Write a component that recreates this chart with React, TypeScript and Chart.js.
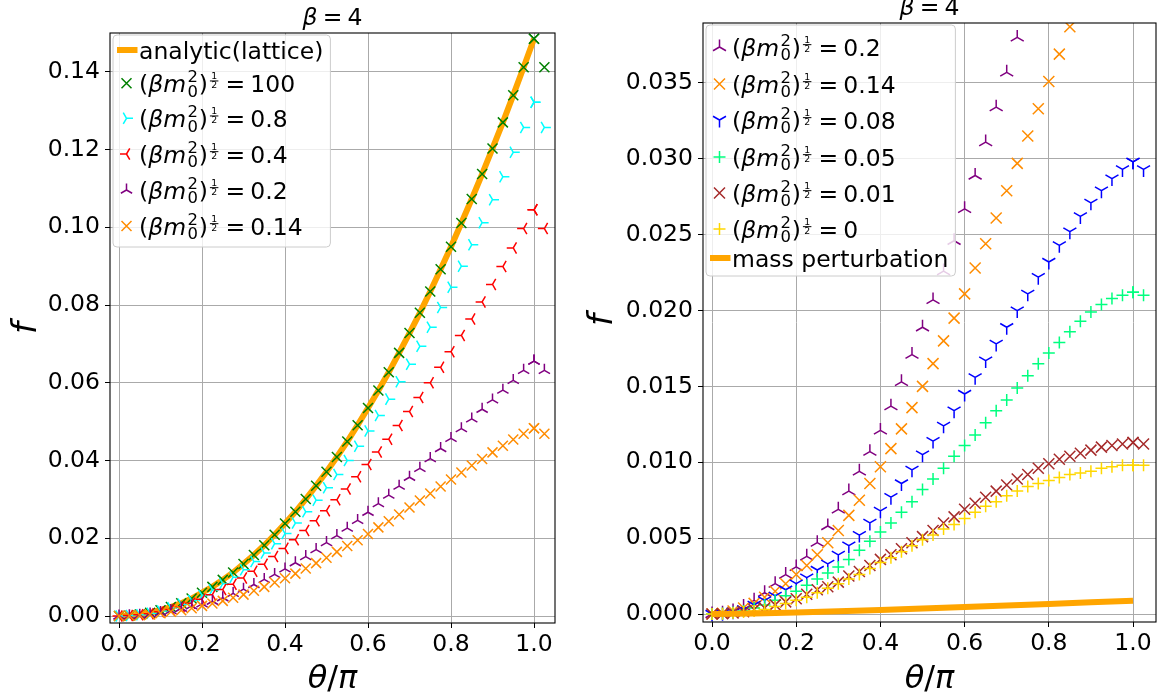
import React, { useEffect, useRef } from "react";
import { Chart, registerables } from "chart.js";
Chart.register(...registerables);

const FAMILY = '"DejaVu Sans", sans-serif';
const GRID = "#aaaaaa";

// theta / pi sample positions
const thetaOverPi = [0, 0.025, 0.05, 0.075, 0.1, 0.125, 0.15, 0.175, 0.2, 0.225, 0.25, 0.275, 0.3, 0.325, 0.35, 0.375, 0.4, 0.425, 0.45, 0.475, 0.5, 0.525, 0.55, 0.575, 0.6, 0.625, 0.65, 0.675, 0.7, 0.725, 0.75, 0.775, 0.8, 0.825, 0.85, 0.875, 0.9, 0.925, 0.95, 0.975, 1.0, 1.025];

const analyticLattice = [0, 0.0001, 0.0004, 0.0008, 0.0015, 0.0023, 0.0033, 0.0045, 0.0060, 0.0075, 0.0093, 0.0112, 0.0134, 0.0157, 0.0182, 0.0209, 0.0238, 0.0268, 0.0301, 0.0335, 0.0371, 0.0409, 0.0449, 0.0491, 0.0535, 0.0580, 0.0627, 0.0677, 0.0728, 0.0780, 0.0835, 0.0892, 0.0950, 0.1011, 0.1073, 0.1137, 0.1203, 0.1270, 0.1340, 0.1412, 0.1485];

const mass100 = [0, 0.0001, 0.0004, 0.0008, 0.0015, 0.0023, 0.0033, 0.0045, 0.0060, 0.0075, 0.0093, 0.0112, 0.0134, 0.0157, 0.0182, 0.0209, 0.0238, 0.0268, 0.0301, 0.0335, 0.0371, 0.0409, 0.0449, 0.0491, 0.0535, 0.0580, 0.0627, 0.0677, 0.0728, 0.0780, 0.0835, 0.0892, 0.0950, 0.1011, 0.1073, 0.1137, 0.1203, 0.1270, 0.1340, 0.1412, 0.1485, 0.1412];
const mass08 = [0, 0.0001, 0.0003, 0.0007, 0.0013, 0.0021, 0.0030, 0.0040, 0.0053, 0.0067, 0.0083, 0.0100, 0.0119, 0.0140, 0.0162, 0.0186, 0.0212, 0.0239, 0.0268, 0.0298, 0.0330, 0.0364, 0.0400, 0.0437, 0.0476, 0.0516, 0.0558, 0.0603, 0.0648, 0.0694, 0.0743, 0.0794, 0.0846, 0.0900, 0.0955, 0.1012, 0.1071, 0.1130, 0.1193, 0.1257, 0.1322, 0.1257];
const mass04 = [0, 0.0001, 0.0003, 0.0006, 0.0011, 0.0017, 0.0024, 0.0033, 0.0043, 0.0055, 0.0068, 0.0082, 0.0098, 0.0115, 0.0133, 0.0153, 0.0174, 0.0196, 0.0220, 0.0245, 0.0271, 0.0299, 0.0327, 0.0358, 0.0390, 0.0422, 0.0455, 0.0490, 0.0526, 0.0562, 0.0600, 0.0640, 0.0680, 0.0722, 0.0764, 0.0808, 0.0853, 0.0899, 0.0947, 0.0997, 0.1045, 0.0997];
const mass02 = [0, 0.00005, 0.0002, 0.0005, 0.0009, 0.0014, 0.0020, 0.0026, 0.0031, 0.0038, 0.0047, 0.0058, 0.0069, 0.0081, 0.0094, 0.0107, 0.0121, 0.0137, 0.0153, 0.0171, 0.0189, 0.0207, 0.0226, 0.0246, 0.0267, 0.0289, 0.0311, 0.0334, 0.0357, 0.0380, 0.0405, 0.0431, 0.0457, 0.0482, 0.0507, 0.0532, 0.0556, 0.0581, 0.0606, 0.0632, 0.0656, 0.0632];
const mass014 = [0, 0.00005, 0.0002, 0.0004, 0.0007, 0.0011, 0.0015, 0.0020, 0.0026, 0.0032, 0.0039, 0.0047, 0.0055, 0.0065, 0.0075, 0.0086, 0.0097, 0.0109, 0.0122, 0.0136, 0.0150, 0.0165, 0.0180, 0.0195, 0.0211, 0.0228, 0.0244, 0.0261, 0.0279, 0.0297, 0.0315, 0.0333, 0.0351, 0.0369, 0.0387, 0.0404, 0.0421, 0.0438, 0.0454, 0.0469, 0.0483, 0.0469];
const mass008 = [0, 0.00005, 0.00015, 0.0003, 0.0006, 0.0009, 0.0012, 0.0016, 0.0020, 0.0024, 0.0029, 0.0033, 0.0039, 0.0045, 0.0052, 0.0060, 0.0068, 0.0077, 0.0086, 0.0095, 0.0105, 0.0114, 0.0124, 0.0134, 0.0145, 0.0156, 0.0167, 0.0178, 0.0189, 0.0200, 0.0211, 0.0222, 0.0232, 0.0243, 0.0252, 0.0262, 0.0271, 0.0279, 0.0287, 0.0293, 0.0298, 0.0293];
const mass005 = [0, 0.00003, 0.0001, 0.0002, 0.0004, 0.0006, 0.0009, 0.0012, 0.0015, 0.0019, 0.0023, 0.0027, 0.0031, 0.0036, 0.0042, 0.0048, 0.0054, 0.0060, 0.0067, 0.0074, 0.0082, 0.0089, 0.0096, 0.0104, 0.0111, 0.0118, 0.0126, 0.0134, 0.0141, 0.0149, 0.0157, 0.0165, 0.0172, 0.0179, 0.0186, 0.0193, 0.0199, 0.0204, 0.0208, 0.0210, 0.0212, 0.0210];
const mass001 = [0, 0.00002, 0.00007, 0.00015, 0.0003, 0.0004, 0.0006, 0.0008, 0.0010, 0.0013, 0.0016, 0.0018, 0.0021, 0.0025, 0.0028, 0.0032, 0.0036, 0.0039, 0.0043, 0.0047, 0.0051, 0.0055, 0.0060, 0.0064, 0.0069, 0.0073, 0.0077, 0.0081, 0.0085, 0.0089, 0.0092, 0.0096, 0.0099, 0.0102, 0.0104, 0.0106, 0.0108, 0.0110, 0.0111, 0.0112, 0.0113, 0.0112];
const mass0 = [0, 0.00002, 0.00006, 0.00013, 0.0002, 0.0003, 0.0005, 0.0007, 0.0009, 0.0011, 0.0014, 0.0017, 0.0020, 0.0023, 0.0026, 0.0030, 0.0034, 0.0037, 0.0041, 0.0045, 0.0049, 0.0052, 0.0056, 0.0059, 0.0063, 0.0067, 0.0071, 0.0074, 0.0078, 0.0081, 0.0084, 0.0086, 0.0088, 0.0090, 0.0092, 0.0093, 0.0094, 0.0096, 0.0097, 0.0098, 0.0098, 0.0098];

const massTheta = [0, 0.1, 0.2, 0.3, 0.4, 0.5, 0.6, 0.7, 0.8, 0.9, 1.0];
const massPerturbation = [0, 0.00003, 0.0001, 0.00018, 0.00027, 0.00036, 0.00046, 0.00056, 0.00066, 0.00077, 0.00088];

const xTicks = [0, 0.2, 0.4, 0.6, 0.8, 1.0];
const leftYTicks = [0, 0.02, 0.04, 0.06, 0.08, 0.1, 0.12, 0.14];
const rightYTicks = [0, 0.005, 0.01, 0.015, 0.02, 0.025, 0.03, 0.035];

type Kind = "x" | "+" | "tri_up" | "tri_down" | "tri_left" | "tri_right" | "line";

function drawMarker(ctx: CanvasRenderingContext2D, kind: Kind, x: number, y: number, r: number, color: string, lw = 1.5) {
  ctx.save();
  ctx.strokeStyle = color;
  ctx.lineWidth = lw;
  ctx.lineCap = "butt";
  ctx.beginPath();
  const c = 0.866 * r, h = 0.5 * r;
  switch (kind) {
    case "x":
      ctx.moveTo(x - r, y - r); ctx.lineTo(x + r, y + r);
      ctx.moveTo(x - r, y + r); ctx.lineTo(x + r, y - r);
      break;
    case "+":
      ctx.moveTo(x - r, y); ctx.lineTo(x + r, y);
      ctx.moveTo(x, y - r); ctx.lineTo(x, y + r);
      break;
    case "tri_up":
      ctx.moveTo(x, y); ctx.lineTo(x, y - r);
      ctx.moveTo(x, y); ctx.lineTo(x - c, y + h);
      ctx.moveTo(x, y); ctx.lineTo(x + c, y + h);
      break;
    case "tri_down":
      ctx.moveTo(x, y); ctx.lineTo(x, y + r);
      ctx.moveTo(x, y); ctx.lineTo(x - c, y - h);
      ctx.moveTo(x, y); ctx.lineTo(x + c, y - h);
      break;
    case "tri_left":
      ctx.moveTo(x, y); ctx.lineTo(x - r, y);
      ctx.moveTo(x, y); ctx.lineTo(x + h, y - c);
      ctx.moveTo(x, y); ctx.lineTo(x + h, y + c);
      break;
    case "tri_right":
      ctx.moveTo(x, y); ctx.lineTo(x + r, y);
      ctx.moveTo(x, y); ctx.lineTo(x - h, y - c);
      ctx.moveTo(x, y); ctx.lineTo(x - h, y + c);
      break;
  }
  ctx.stroke();
  ctx.restore();
}

const reg = (s: number) => `${s}px ${FAMILY}`;
const ita = (s: number) => `italic ${s}px ${FAMILY}`;

const EQ_PRE = 0.3;
const EQ_POST = 0.22;

function drawMassLabel(ctx: CanvasRenderingContext2D, x: number, baseY: number, value: string, F: number) {
  ctx.save();
  ctx.fillStyle = "#000";
  ctx.textAlign = "left";
  ctx.textBaseline = "alphabetic";
  let cx = x;
  ctx.font = reg(F); ctx.fillText("(", cx, baseY); cx += ctx.measureText("(").width;
  ctx.font = ita(F); ctx.fillText("β", cx, baseY); cx += ctx.measureText("β").width;
  ctx.fillText("m", cx, baseY); cx += ctx.measureText("m").width + 0.06 * F;
  ctx.font = reg(0.7 * F);
  ctx.fillText("2", cx, baseY - 0.42 * F);
  ctx.fillText("0", cx, baseY + 0.2 * F);
  cx += ctx.measureText("2").width + 0.04 * F;
  ctx.font = reg(F); ctx.fillText(")", cx, baseY); cx += ctx.measureText(")").width;
  cx += 0.08 * F;
  const fw = 0.36 * F;
  const barY = baseY - 0.47 * F;
  ctx.fillRect(cx, barY - 0.5, fw, 1);
  ctx.font = reg(0.4 * F);
  ctx.textAlign = "center";
  ctx.fillText("1", cx + fw / 2, barY - 0.07 * F);
  ctx.fillText("2", cx + fw / 2, barY + 0.31 * F);
  ctx.textAlign = "left";
  cx += fw + EQ_PRE * F;
  ctx.font = reg(F); ctx.fillText("=", cx, baseY); cx += ctx.measureText("=").width + EQ_POST * F;
  ctx.fillText(value, cx, baseY);
  ctx.restore();
}

function measureMassLabel(ctx: CanvasRenderingContext2D, value: string, F: number) {
  ctx.save();
  let w = 0;
  ctx.font = reg(F); w += ctx.measureText("(").width;
  ctx.font = ita(F); w += ctx.measureText("β").width + ctx.measureText("m").width + 0.06 * F;
  ctx.font = reg(0.7 * F); w += ctx.measureText("2").width + 0.04 * F;
  ctx.font = reg(F); w += ctx.measureText(")").width + 0.08 * F + 0.36 * F + EQ_PRE * F;
  w += ctx.measureText("=").width + EQ_POST * F + ctx.measureText(value).width;
  ctx.restore();
  return w;
}

interface Series { label: string; values: number[]; color: string; kind: Kind; size: number; xs?: number[]; }
interface LegendEntry { kind: Kind; color: string; size: number; text?: string; mass?: string; y: number; }
interface Panel {
  canvasLeft: number; canvasWidth: number;
  area: { left: number; right: number; top: number; bottom: number };
  xMin: number; xMax: number; yMin: number; yMax: number;
  yTicks: number[]; yDecimals: number;
  series: Series[];
  legend: LegendEntry[]; legendTop: number; legendBottom: number;
  titleBase: number; fX: number; fY: number;
}

const F = 23.5;

const LEFT: Panel = {
  canvasLeft: 0, canvasWidth: 580,
  area: { left: 110, right: 555, top: 33, bottom: 623 },
  xMin: -0.0217, xMax: 1.0506, yMin: -0.0018, yMax: 0.15,
  yTicks: leftYTicks, yDecimals: 2,
  series: [
    { label: "analytic(lattice)", values: analyticLattice, color: "#ffa500", kind: "line", size: 6 },
    { label: "100", values: mass100, color: "#008000", kind: "x", size: 5 },
    { label: "0.8", values: mass08, color: "#00ffff", kind: "tri_right", size: 6.5 },
    { label: "0.4", values: mass04, color: "#ff0000", kind: "tri_left", size: 6.5 },
    { label: "0.2", values: mass02, color: "#800080", kind: "tri_up", size: 6.5 },
    { label: "0.14", values: mass014, color: "#ff8c00", kind: "x", size: 5 },
  ],
  legend: [
    { kind: "line", color: "#ffa500", size: 6, text: "analytic(lattice)", y: 50 },
    { kind: "x", color: "#008000", size: 5, mass: "100", y: 83.3 },
    { kind: "tri_right", color: "#00ffff", size: 6.5, mass: "0.8", y: 118.3 },
    { kind: "tri_left", color: "#ff0000", size: 6.5, mass: "0.4", y: 154 },
    { kind: "tri_up", color: "#800080", size: 6.5, mass: "0.2", y: 190 },
    { kind: "x", color: "#ff8c00", size: 5, mass: "0.14", y: 226 },
  ],
  legendTop: 35, legendBottom: 247,
  titleBase: 25, fX: 36, fY: 328,
};

const RIGHT: Panel = {
  canvasLeft: 580, canvasWidth: 579,
  area: { left: 703, right: 1156, top: 23, bottom: 622 },
  xMin: -0.0214, xMax: 1.0546, yMin: -0.000527, yMax: 0.03895,
  yTicks: rightYTicks, yDecimals: 3,
  series: [
    { label: "0.2", values: mass02, color: "#800080", kind: "tri_up", size: 7.5 },
    { label: "0.14", values: mass014, color: "#ff8c00", kind: "x", size: 5.5 },
    { label: "0.08", values: mass008, color: "#0000ff", kind: "tri_down", size: 7.5 },
    { label: "0.05", values: mass005, color: "#00ff7f", kind: "+", size: 6 },
    { label: "0.01", values: mass001, color: "#a52a2a", kind: "x", size: 5.5 },
    { label: "0", values: mass0, color: "#ffd700", kind: "+", size: 6 },
    { label: "mass perturbation", values: massPerturbation, xs: massTheta, color: "#ffa500", kind: "line", size: 6 },
  ],
  legend: [
    { kind: "tri_up", color: "#800080", size: 7.5, mass: "0.2", y: 47 },
    { kind: "x", color: "#ff8c00", size: 5.5, mass: "0.14", y: 84 },
    { kind: "tri_down", color: "#0000ff", size: 7.5, mass: "0.08", y: 120 },
    { kind: "+", color: "#00ff7f", size: 6, mass: "0.05", y: 157 },
    { kind: "x", color: "#a52a2a", size: 5.5, mass: "0.01", y: 193 },
    { kind: "+", color: "#ffd700", size: 6, mass: "0", y: 229 },
    { kind: "line", color: "#ffa500", size: 6, text: "mass perturbation", y: 258 },
  ],
  legendTop: 25, legendBottom: 276,
  titleBase: 15, fX: 612, fY: 320,
};

function roundRect(ctx: CanvasRenderingContext2D, x: number, y: number, w: number, h: number, r: number) {
  ctx.beginPath();
  ctx.moveTo(x + r, y);
  ctx.lineTo(x + w - r, y); ctx.arcTo(x + w, y, x + w, y + r, r);
  ctx.lineTo(x + w, y + h - r); ctx.arcTo(x + w, y + h, x + w - r, y + h, r);
  ctx.lineTo(x + r, y + h); ctx.arcTo(x, y + h, x, y + h - r, r);
  ctx.lineTo(x, y + r); ctx.arcTo(x, y, x + r, y, r);
  ctx.closePath();
}

function buildPanel(canvas: HTMLCanvasElement, P: Panel) {
  const off = P.canvasLeft;
  const n = P.series.length;
  const datasets: any[] = P.series.map((s, i) => {
    const xs = s.xs || thetaOverPi;
    const pts = s.values.map((v, j) => ({ x: xs[j], y: v }));
    if (s.kind === "line") {
      return {
        label: s.label, data: pts, showLine: true, borderColor: s.color, backgroundColor: s.color,
        borderWidth: s.size, pointRadius: 0, pointHoverRadius: 0, tension: 0, fill: false,
        borderCapStyle: "butt", order: n - i,
      };
    }
    pts.push({ x: xs[40], y: s.values[40] });
    return {
      label: s.label, data: pts, showLine: false, pointRadius: 0, pointHoverRadius: 0,
      borderColor: s.color, backgroundColor: s.color, order: n - i,
      markerKind: s.kind, markerColor: s.color, markerSize: s.size,
    };
  });

  const decor = {
    id: "decor",
    afterDatasetDraw(chart: any, args: any) {
      const ds = chart.data.datasets[args.index];
      if (!ds.markerKind) return;
      const ctx = chart.ctx as CanvasRenderingContext2D;
      const a = chart.chartArea;
      ctx.save();
      ctx.beginPath();
      ctx.rect(a.left, a.top, a.right - a.left, a.bottom - a.top);
      ctx.clip();
      for (const el of args.meta.data) {
        drawMarker(ctx, ds.markerKind, el.x, el.y, ds.markerSize, ds.markerColor, 1.5);
      }
      ctx.restore();
    },
    afterDraw(chart: any) {
      const ctx = chart.ctx as CanvasRenderingContext2D;
      const a = chart.chartArea;
      ctx.save();
      // spines
      ctx.strokeStyle = "#000";
      ctx.lineWidth = 1.1;
      ctx.strokeRect(a.left, a.top, a.right - a.left, a.bottom - a.top);

      // title  β = 4
      ctx.fillStyle = "#000";
      ctx.textBaseline = "alphabetic";
      ctx.textAlign = "left";
      const cxT = (a.left + a.right) / 2;
      ctx.font = ita(F); const wb = ctx.measureText("β").width;
      ctx.font = reg(F); const we = ctx.measureText("=").width; const w4 = ctx.measureText("4").width;
      const g = 0.22 * F;
      let tx = cxT - (wb + g + we + g + w4) / 2;
      ctx.font = ita(F); ctx.fillText("β", tx, P.titleBase); tx += wb + g;
      ctx.font = reg(F); ctx.fillText("=", tx, P.titleBase); tx += we + g;
      ctx.fillText("4", tx, P.titleBase);

      // x label θ/π
      const LF = 32;
      ctx.font = ita(LF); const wth = ctx.measureText("θ").width; const wpi = ctx.measureText("π").width;
      ctx.font = reg(LF); const wsl = ctx.measureText("/").width;
      let lx = cxT - (wth + wsl + wpi) / 2;
      ctx.font = ita(LF); ctx.fillText("θ", lx, 688); lx += wth;
      ctx.font = reg(LF); ctx.fillText("/", lx, 688); lx += wsl;
      ctx.font = ita(LF); ctx.fillText("π", lx, 688);

      // y label f (rotated)
      ctx.save();
      ctx.translate(P.fX - off, P.fY);
      ctx.rotate(-Math.PI / 2);
      ctx.textAlign = "center";
      ctx.font = ita(34);
      ctx.fillText("f", 0, 0);
      ctx.restore();

      // legend
      const boxL = a.left + 3;
      const textX = boxL + 26;
      let maxW = 0;
      for (const e of P.legend) {
        let w = 0;
        if (e.text) { ctx.font = reg(F); w = ctx.measureText(e.text).width; }
        else w = measureMassLabel(ctx, e.mass!, F);
        maxW = Math.max(maxW, w);
      }
      const boxR = textX + maxW + 7;
      roundRect(ctx, boxL, P.legendTop, boxR - boxL, P.legendBottom - P.legendTop, 4);
      ctx.fillStyle = "rgba(255,255,255,0.8)";
      ctx.fill();
      ctx.strokeStyle = "#cccccc";
      ctx.lineWidth = 1;
      ctx.stroke();
      for (const e of P.legend) {
        if (e.kind === "line") {
          ctx.save();
          ctx.strokeStyle = e.color; ctx.lineWidth = e.size;
          ctx.beginPath(); ctx.moveTo(boxL + 4, e.y); ctx.lineTo(boxL + 24.5, e.y); ctx.stroke();
          ctx.restore();
        } else {
          drawMarker(ctx, e.kind, boxL + 13.5, e.y, e.size, e.color, 1.5);
        }
        ctx.fillStyle = "#000";
        if (e.text) {
          ctx.font = reg(F); ctx.textAlign = "left";
          ctx.fillText(e.text, textX, e.y + 8.7);
        } else {
          drawMassLabel(ctx, textX, e.y + 8.7, e.mass!, F);
        }
      }
      ctx.restore();
    },
  };

  const tickFont = { family: FAMILY, size: F };
  return new Chart(canvas, {
    type: "scatter",
    data: { datasets },
    options: {
      animation: false,
      responsive: false,
      devicePixelRatio: 1,
      events: [],
      layout: { padding: { left: 0, top: P.area.top, right: off + P.canvasWidth - P.area.right, bottom: 0 } },
      plugins: { legend: { display: false }, tooltip: { enabled: false }, title: { display: false } },
      scales: {
        x: {
          type: "linear", min: P.xMin, max: P.xMax,
          afterBuildTicks: (s: any) => { s.ticks = xTicks.map((v) => ({ value: v })); },
          afterFit: (s: any) => { s.height = 698 - P.area.bottom; },
          ticks: { font: tickFont, color: "#000", padding: 3, maxRotation: 0, autoSkip: false, callback: (v: any) => Number(v).toFixed(1) },
          grid: { color: GRID, lineWidth: 1, tickLength: 5, tickColor: "#000", tickWidth: 1 },
          border: { display: false },
        },
        y: {
          type: "linear", min: P.yMin, max: P.yMax,
          afterBuildTicks: (s: any) => { s.ticks = P.yTicks.map((v) => ({ value: v })); },
          afterFit: (s: any) => { s.width = P.area.left - off; },
          ticks: { font: tickFont, color: "#000", padding: 5, autoSkip: false, callback: (v: any) => Number(v).toFixed(P.yDecimals) },
          grid: { color: GRID, lineWidth: 1, tickLength: 5, tickColor: "#000", tickWidth: 1 },
          border: { display: false },
        },
      },
    } as any,
    plugins: [decor],
  });
}

export default function App() {
  const leftRef = useRef<HTMLCanvasElement>(null);
  const rightRef = useRef<HTMLCanvasElement>(null);
  useEffect(() => {
    document.body.style.margin = "0";
    const c1 = buildPanel(leftRef.current!, LEFT);
    const c2 = buildPanel(rightRef.current!, RIGHT);
    return () => { c1.destroy(); c2.destroy(); };
  }, []);
  return (
    <div style={{ position: "relative", width: 1159, height: 698, background: "#fff", overflow: "hidden" }}>
      <canvas ref={leftRef} width={580} height={698} style={{ position: "absolute", left: 0, top: 0 }} />
      <canvas ref={rightRef} width={579} height={698} style={{ position: "absolute", left: 580, top: 0 }} />
    </div>
  );
}
